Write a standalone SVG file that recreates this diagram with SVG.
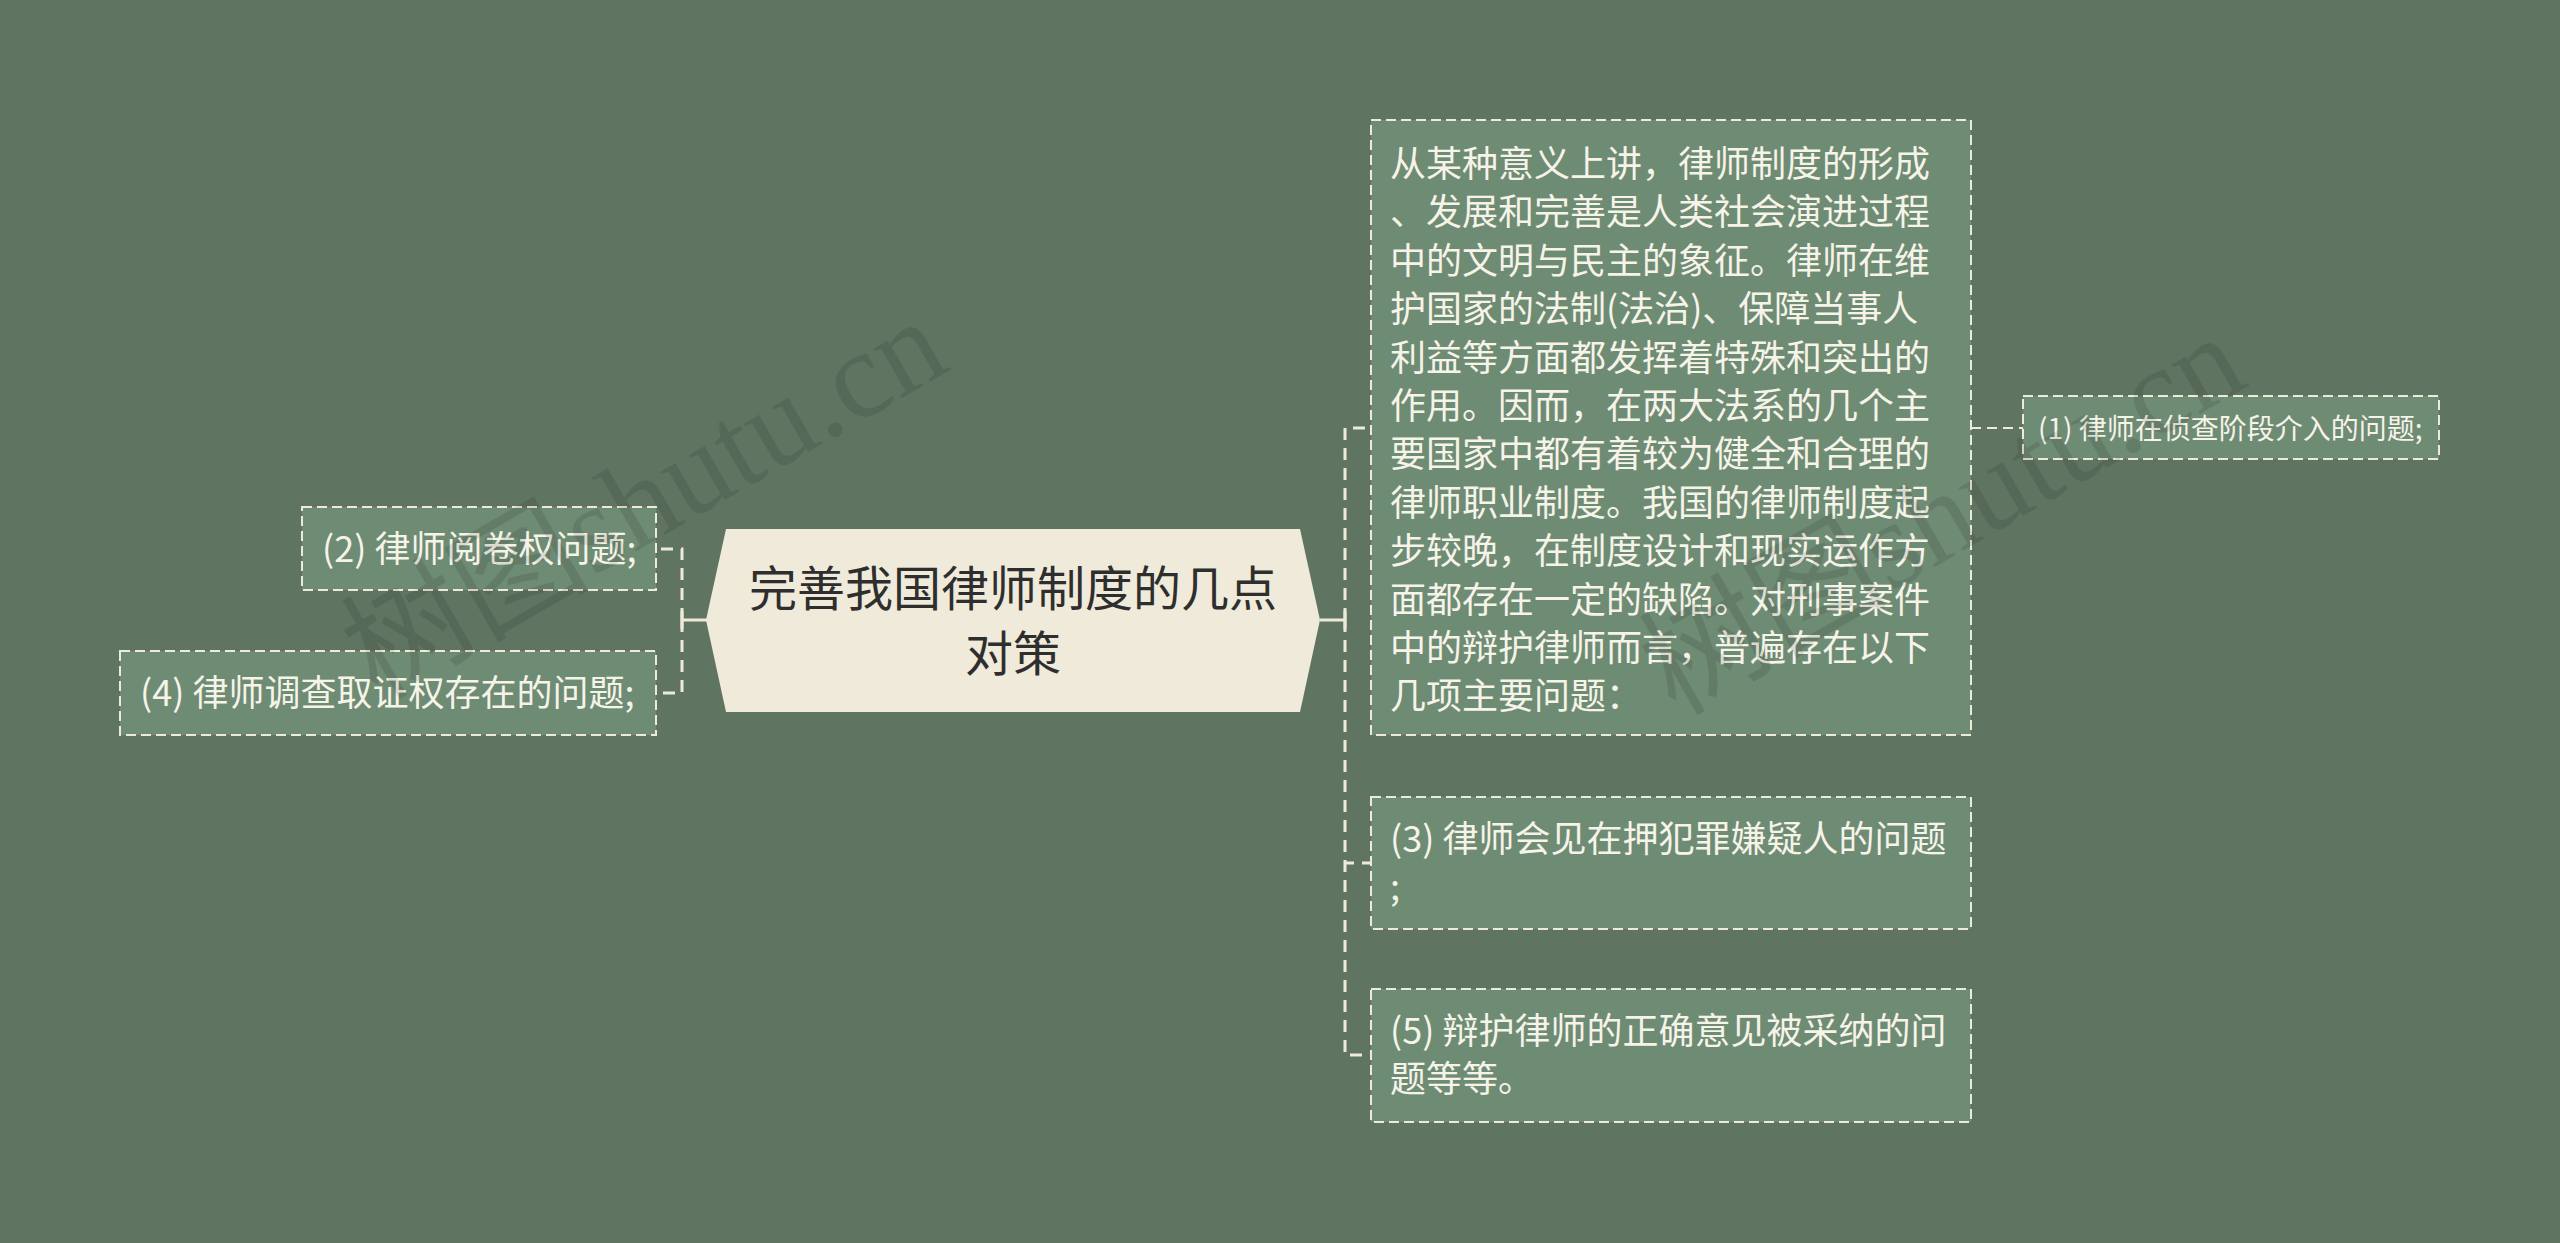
<svg xmlns="http://www.w3.org/2000/svg" width="2560" height="1243" viewBox="0 0 2560 1243">
<style>
.bg{fill:#607462}
.box{fill:#6E8B74;stroke:#EEEAD8;stroke-width:2;stroke-dasharray:10 5}
.t{font-family:"Noto Sans CJK SC","Noto Sans",sans-serif;fill:#F6F3E9}
.t36{font-size:36px}
.t28{font-size:28px}
.ct{font-family:"Noto Sans CJK SC","Noto Sans",sans-serif;font-size:48px;fill:#2E2E2E}
.dash{fill:none;stroke:#EEEAD8;stroke-width:3;stroke-dasharray:12 8}
.solid{fill:none;stroke:#EEEAD8;stroke-width:3}
.wm{font-family:"Liberation Serif","Noto Sans CJK SC",serif;font-size:124px;fill:#000;fill-opacity:0.1}
</style>
<rect class="bg" x="0" y="0" width="2560" height="1243"/>
<g id="connectors">
<path class="solid" d="M707,620 H682 M682,611 V629"/>
<path class="dash" d="M682,620 V549 H655 M682,620 V693 H655"/>
<path class="solid" d="M1320,620 H1345 M1345,611 V629"/>
<path class="dash" d="M1345,620 V428 H1371 M1345,620 V863 H1371 M1345,620 V1055 H1371"/>
<path class="dash" style="stroke-width:2;stroke-dasharray:10 6" d="M1971,428 H2023"/>
</g>
<g id="center">
<polygon points="706,620 726,529 1300,529 1320,620 1300,712 726,712" fill="#EFEAD9"/>
<text class="ct" x="1013" y="606" text-anchor="middle">完善我国律师制度的几点</text>
<text class="ct" x="1013" y="671" text-anchor="middle">对策</text>
</g>
<g id="node-main">
<rect class="box" x="1371" y="120" width="600" height="615"/>
<text class="t t36" x="1390" y="177">从某种意义上讲，律师制度的形成</text>
<text class="t t36" x="1390" y="225.4">、发展和完善是人类社会演进过程</text>
<text class="t t36" x="1390" y="273.8">中的文明与民主的象征。律师在维</text>
<text class="t t36" x="1390" y="322.2">护国家的法制(法治)、保障当事人</text>
<text class="t t36" x="1390" y="370.6">利益等方面都发挥着特殊和突出的</text>
<text class="t t36" x="1390" y="419">作用。因而，在两大法系的几个主</text>
<text class="t t36" x="1390" y="467.4">要国家中都有着较为健全和合理的</text>
<text class="t t36" x="1390" y="515.8">律师职业制度。我国的律师制度起</text>
<text class="t t36" x="1390" y="564.2">步较晚，在制度设计和现实运作方</text>
<text class="t t36" x="1390" y="612.6">面都存在一定的缺陷。对刑事案件</text>
<text class="t t36" x="1390" y="661">中的辩护律师而言，普遍存在以下</text>
<text class="t t36" x="1390" y="709.4">几项主要问题：</text>
</g>
<g id="node-1">
<rect class="box" x="2023" y="396" width="416" height="63"/>
<text class="t t28" x="2038" y="439">(1) 律师在侦查阶段介入的问题;</text>
</g>
<g id="node-3">
<rect class="box" x="1371" y="797" width="600" height="132"/>
<text class="t t36" x="1390" y="852">(3) 律师会见在押犯罪嫌疑人的问题</text>
<text class="t t36" x="1390" y="900">;</text>
</g>
<g id="node-5">
<rect class="box" x="1371" y="989" width="600" height="133"/>
<text class="t t36" x="1390" y="1044">(5) 辩护律师的正确意见被采纳的问</text>
<text class="t t36" x="1390" y="1092">题等等。</text>
</g>
<g id="node-2">
<rect class="box" x="302" y="507" width="354" height="83"/>
<text class="t t36" x="322" y="562">(2) 律师阅卷权问题;</text>
</g>
<g id="node-4">
<rect class="box" x="120" y="651" width="536" height="84"/>
<text class="t t36" x="140" y="706">(4) 律师调查取证权存在的问题;</text>
</g>
<g id="watermarks">
<text class="wm" x="645" y="540" text-anchor="middle" transform="rotate(-30 645 500)">树图shutu.cn</text>
<text class="wm" x="1943" y="556" text-anchor="middle" transform="rotate(-30 1943 516)">树图shutu.cn</text>
</g>
</svg>
